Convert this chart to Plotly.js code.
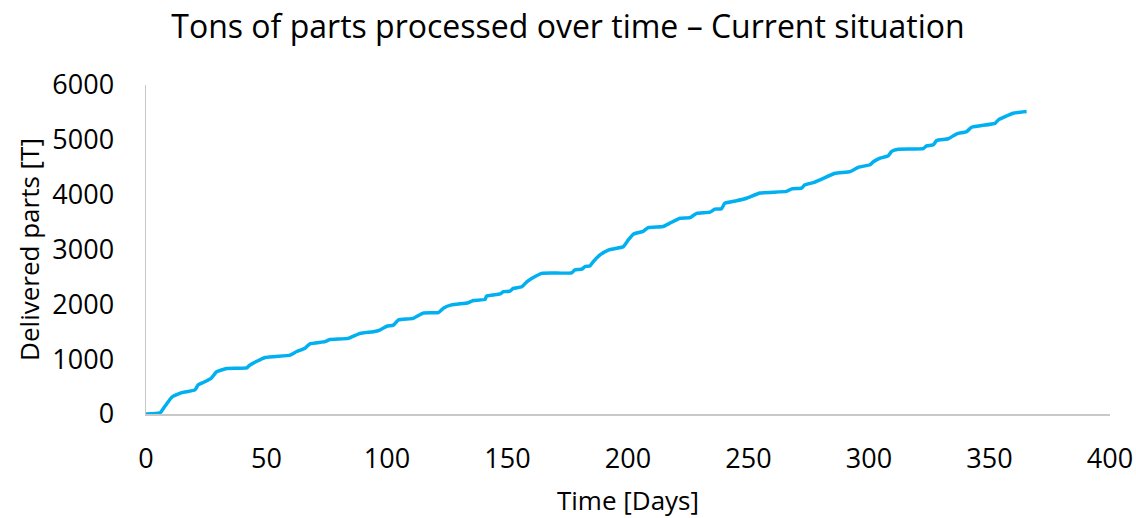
<!DOCTYPE html>
<html>
<head>
<meta charset="utf-8">
<script src="https://cdn.plot.ly/plotly-3.0.1.min.js"></script>
<style>html,body{margin:0;padding:0;background:#fff;}#chart{width:1136px;height:518px;}</style>
</head>
<body>
<div id="chart"></div>
<script>
const days = [0, 5.8, 8, 10.8, 14.8, 20.3, 21.6, 24, 27, 29.3, 33.5, 41.8, 43, 49.4, 59.8, 62.5, 66, 68, 74.3, 76.3, 84, 88.8, 94.3, 97, 99.9, 102.6, 104.7, 110.9, 115, 121.3, 123.4, 126.8, 133.7, 135.8, 140.7, 141.3, 146.9, 148.3, 151, 152.4, 155.9, 158, 160.7, 164.2, 176.6, 178, 180.8, 182.2, 184.2, 185.6, 188.4, 191.8, 198, 200.1, 202.2, 206.3, 208.4, 214.6, 217.4, 221.6, 225.7, 228.5, 234, 236, 238.8, 240.2, 245, 249.2, 254.8, 265.8, 267.9, 272, 273.4, 276.9, 279.7, 285.9, 292.1, 295.6, 300.4, 301.8, 304.6, 308, 309.4, 312.2, 322.5, 323.9, 326.7, 328.1, 332.9, 336.4, 340.5, 342.6, 352.3, 353.7, 359.9, 365.4];
const delivered = [0, 20, 150, 310, 390, 440, 530, 580, 650, 770, 830, 840, 890, 1030, 1075, 1140, 1200, 1280, 1320, 1360, 1380, 1470, 1500, 1530, 1600, 1620, 1715, 1745, 1840, 1850, 1930, 1990, 2030, 2070, 2090, 2150, 2190, 2230, 2240, 2290, 2320, 2410, 2490, 2565, 2575, 2630, 2640, 2690, 2700, 2780, 2900, 2990, 3050, 3175, 3280, 3330, 3400, 3420, 3480, 3570, 3580, 3660, 3680, 3735, 3745, 3845, 3890, 3935, 4030, 4060, 4105, 4120, 4180, 4220, 4270, 4390, 4420, 4500, 4545, 4600, 4665, 4710, 4790, 4830, 4840, 4890, 4910, 4990, 5020, 5110, 5150, 5230, 5300, 5365, 5485, 5515];

const titleText = 'Tons of parts processed over time – Current situation';
const xTitle = 'Time [Days]';
const yTitle = 'Delivered parts [T]';

const font = 'Open Sans, Liberation Sans, sans-serif';

Plotly.newPlot('chart', [{
  x: days,
  y: delivered,
  type: 'scatter',
  mode: 'lines',
  line: {color: '#00B0F0', width: 3.5, shape: 'spline', smoothing: 0.4},
  hoverinfo: 'x+y'
}], {
  width: 1136,
  height: 518,
  margin: {l: 146, r: 26, t: 85, b: 104},
  paper_bgcolor: '#ffffff',
  plot_bgcolor: '#ffffff',
  showlegend: false,
  font: {family: font, color: '#000000', size: 27},
  title: {text: titleText, font: {family: font, size: 32, color: '#000000'}, x: 0.5, xanchor: 'center', y: 0.948, yanchor: 'middle'},
  xaxis: {
    range: [0, 400], tickmode: 'linear', tick0: 0, dtick: 50,
    showgrid: false, zeroline: false, showline: true, linecolor: '#c8c8c8', linewidth: 1.5,
    ticks: 'outside', ticklen: 20, tickcolor: 'rgba(0,0,0,0)',
    tickfont: {family: font, size: 27, color: '#000'},
    title: {text: xTitle, font: {family: font, size: 26, color: '#000'}, standoff: 18}
  },
  yaxis: {
    range: [0, 6000], tickmode: 'linear', tick0: 0, dtick: 1000,
    showgrid: false, zeroline: false, showline: true, linecolor: '#c8c8c8', linewidth: 1.5,
    ticks: 'outside', ticklen: 25, tickcolor: 'rgba(0,0,0,0)',
    tickfont: {family: font, size: 27, color: '#000'},
    title: {text: yTitle, font: {family: font, size: 26, color: '#000'}, standoff: 5}
  }
}, {displayModeBar: false, staticPlot: true});
</script>
</body>
</html>
